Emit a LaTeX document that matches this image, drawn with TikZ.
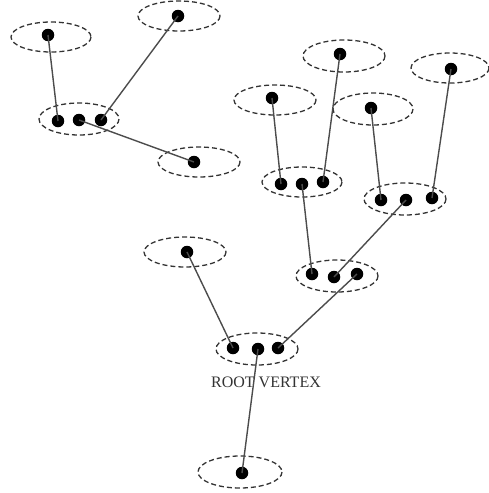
\documentclass[tikz,border=0pt]{standalone}
\usepackage{fontspec}
\setmainfont{Liberation Serif}
\begin{document}
\begin{tikzpicture}[x=1pt,y=-1pt,
  grp/.style={draw=black!80,dash pattern=on 5pt off 3pt,line width=1.3pt},
  vtx/.style={circle,fill=black,inner sep=0pt,minimum size=12.5pt},
  edge/.style={draw=black!70,line width=1.4pt}]
\useasboundingbox (0,0) rectangle (488,493);
% group ellipses
\draw[grp] (51,37) ellipse [x radius=40,y radius=15];
\draw[grp] (179,16) ellipse [x radius=41,y radius=15];
\draw[grp] (79,119) ellipse [x radius=40,y radius=16];
\draw[grp] (199,162) ellipse [x radius=41,y radius=15];
\draw[grp] (344,56) ellipse [x radius=41,y radius=16];
\draw[grp] (275,100) ellipse [x radius=41,y radius=15];
\draw[grp] (373,109) ellipse [x radius=40,y radius=16];
\draw[grp] (450,68) ellipse [x radius=39,y radius=15];
\draw[grp] (302,182) ellipse [x radius=40,y radius=15];
\draw[grp] (405,199) ellipse [x radius=41,y radius=16];
\draw[grp] (185,252) ellipse [x radius=41,y radius=15];
\draw[grp] (337,276) ellipse [x radius=41,y radius=16];
\draw[grp] (257,349) ellipse [x radius=41,y radius=16];
\draw[grp] (240,472) ellipse [x radius=42,y radius=16];
% vertices
\node[vtx] (a) at (48,35) {};
\node[vtx] (b) at (178,16) {};
\node[vtx] (c1) at (58,121) {};
\node[vtx] (c2) at (79,120) {};
\node[vtx] (c3) at (101,120) {};
\node[vtx] (d) at (194,162) {};
\node[vtx] (e) at (340,54) {};
\node[vtx] (f) at (272,98) {};
\node[vtx] (g) at (371,108) {};
\node[vtx] (h) at (451,69) {};
\node[vtx] (i1) at (281,184) {};
\node[vtx] (i2) at (302,184) {};
\node[vtx] (i3) at (323,182) {};
\node[vtx] (j1) at (381,200) {};
\node[vtx] (j2) at (406,200) {};
\node[vtx] (j3) at (432,198) {};
\node[vtx] (k) at (187,252) {};
\node[vtx] (l1) at (312,274) {};
\node[vtx] (l2) at (334,277) {};
\node[vtx] (l3) at (357,274) {};
\node[vtx] (r1) at (233,348) {};
\node[vtx] (r2) at (258,349) {};
\node[vtx] (r3) at (278,348) {};
\node[vtx] (m) at (242,473) {};
% edges
\draw[edge] (a.center) -- (c1.center);
\draw[edge] (b.center) -- (c3.center);
\draw[edge] (c2.center) -- (d.center);
\draw[edge] (e.center) -- (i3.center);
\draw[edge] (f.center) -- (i1.center);
\draw[edge] (g.center) -- (j1.center);
\draw[edge] (h.center) -- (j3.center);
\draw[edge] (i2.center) -- (l1.center);
\draw[edge] (j2.center) -- (l2.center);
\draw[edge] (k.center) -- (r1.center);
\draw[edge] (l3.center) -- (r3.center);
\draw[edge] (r2.center) -- (m.center);
% label
\node[text=black!80,font=\fontsize{16}{18}\selectfont,inner sep=0pt] (lbl) at (266,382) {ROOT VERTEX};
\end{tikzpicture}
\end{document}
